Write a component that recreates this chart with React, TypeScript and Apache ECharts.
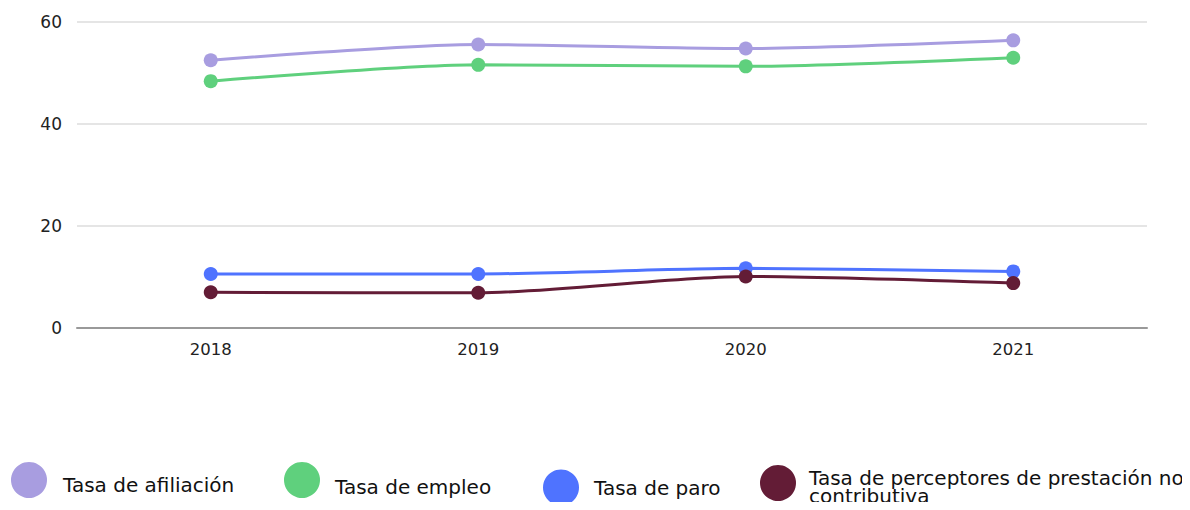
import React, { useEffect, useRef } from "react";
import * as echarts from "echarts";

const years = ["2018", "2019", "2020", "2021"];
const afiliacion = [52.5, 55.6, 54.8, 56.4];
const empleo = [48.4, 51.6, 51.3, 53.0];
const paro = [10.6, 10.6, 11.7, 11.1];
const perceptores = [7.0, 6.9, 10.1, 8.8];

const names = [
  "Tasa de afiliación",
  "Tasa de empleo",
  "Tasa de paro",
  "Tasa de perceptores de prestación no\ncontributiva",
];
const colors = ["#A89DE0", "#5FD07D", "#4F73FF", "#631C36"];
const FONT = "'DejaVu Sans', sans-serif";

export default function App() {
  const ref = useRef<HTMLDivElement>(null);
  useEffect(() => {
    if (!ref.current) return;
    const chart = echarts.init(ref.current, undefined, { renderer: "svg" });
    const data = [afiliacion, empleo, paro, perceptores];
    // spacer: height of an empty first line that pushes the label down
    const legendPos = [
      { left: 11, top: 462, padL: 11, spacer: 9.6, lh: 22 },
      { left: 284, top: 462, padL: 10, spacer: 14.8, lh: 20 },
      { left: 543, top: 469.5, padL: 10, spacer: 0, lh: 22 },
      { left: 760, top: 463, padL: 8, spacer: 8.5, lh: 18 },
    ];
    chart.setOption({
      animation: false,
      textStyle: { fontFamily: FONT },
      grid: { left: 77, right: 43, top: 22, bottom: 182 },
      xAxis: {
        type: "category",
        data: years,
        boundaryGap: true,
        axisLine: { lineStyle: { color: "#999", width: 2 } },
        axisTick: { show: false },
        axisLabel: { color: "#222", fontSize: 16.5, margin: 13, fontFamily: FONT },
      },
      yAxis: {
        type: "value",
        min: 0,
        max: 60,
        interval: 20,
        axisLine: { show: false },
        axisTick: { show: false },
        splitLine: { lineStyle: { color: "#dcdcdc", width: 1.5 } },
        axisLabel: { color: "#222", fontSize: 17, margin: 15, fontFamily: FONT },
      },
      legend: names.map((n, i) => {
        const p = legendPos[i];
        return {
          data: [n],
          left: p.left,
          top: p.top,
          padding: 0,
          icon: "circle",
          itemWidth: 36,
          itemHeight: 36,
          selectedMode: false,
          formatter: (name: string) =>
            p.spacer > 0 ? `{s| }\n{t|${name}}` : `{t|${name}}`,
          textStyle: {
            color: "#111",
            fontSize: 20,
            fontFamily: FONT,
            padding: [0, 0, 0, p.padL],
            rich: {
              s: { fontSize: 4, lineHeight: p.spacer, fontFamily: FONT },
              t: { fontSize: 20, lineHeight: p.lh, color: "#111", fontFamily: FONT },
            },
          },
        };
      }),
      series: names.map((n, i) => ({
        name: n,
        type: "line",
        data: data[i],
        smooth: 0.25,
        symbol: "circle",
        symbolSize: 14,
        showSymbol: true,
        color: colors[i],
        itemStyle: { color: colors[i] },
        lineStyle: { color: colors[i], width: 3 },
      })),
    });
    return () => chart.dispose();
  }, []);
  return <div ref={ref} style={{ width: 1190, height: 510, margin: -8 }} />;
}
